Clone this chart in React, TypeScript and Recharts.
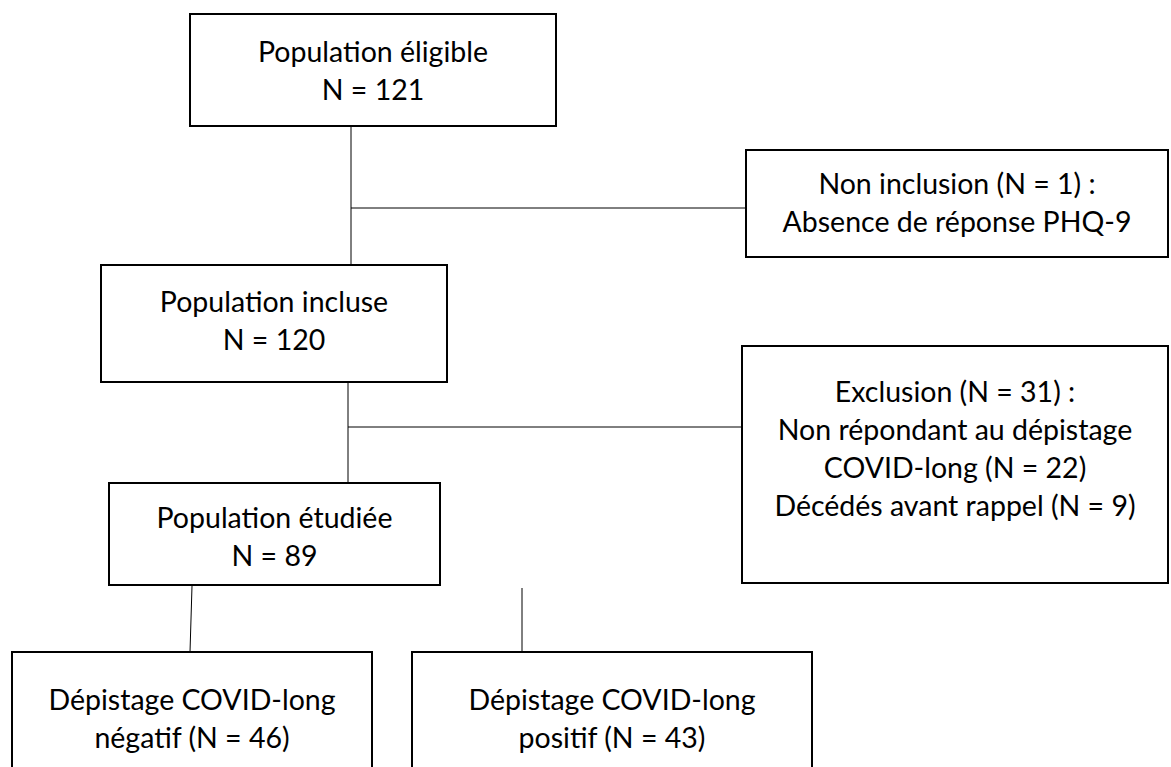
import {
  ComposedChart,
  XAxis,
  YAxis,
  ReferenceArea,
  ReferenceLine,
} from "recharts";

// box texts, one entry per box
const boxTexts: string[][] = [
  ["Population éligible", "N = 121"],
  ["Non inclusion (N = 1) :", "Absence de réponse PHQ-9"],
  ["Population incluse", "N = 120"],
  [
    "Exclusion (N = 31) :",
    "Non répondant au dépistage",
    "COVID-long (N = 22)",
    "Décédés avant rappel (N = 9)",
  ],
  ["Population étudiée", "N = 89"],
  ["Dépistage COVID-long", "négatif (N = 46)"],
  ["Dépistage COVID-long", "positif (N = 43)"],
];

// box frames in chart units: [x1, x2, y1, y2, text centre y]
const boxFrames: number[][] = [
  [190, 556, 14, 126, 70],
  [746, 1168, 150, 257, 202],
  [101, 447, 265, 382, 320],
  [742, 1168, 346, 583, 448],
  [109, 440, 483, 585, 536],
  [12, 372, 652, 775, 718],
  [412, 812, 652, 775, 718],
];

// connector segments: [xa, ya, xb, yb]
const connectors: number[][] = [
  [351, 126, 351, 265],
  [351, 208, 746, 208],
  [348, 382, 348, 483],
  [348, 427, 742, 427],
  [192, 586, 190, 652],
  [522, 588, 522, 652],
];

const W = 1171;
const H = 767;
const LINE_H = 38;
const FONT = "Lato, 'Open Sans', sans-serif";

function BoxLabel(props: any) {
  const { viewBox, lines, dy } = props;
  if (!viewBox) return null;
  const cx = viewBox.x + viewBox.width / 2;
  const cy = viewBox.y + viewBox.height / 2 + dy;
  const start = cy - ((lines.length - 1) * LINE_H) / 2;
  return (
    <text
      x={cx}
      textAnchor="middle"
      fontFamily={FONT}
      fontSize={28.5}
      fill="#000"
    >
      {lines.map((l: string, i: number) => (
        <tspan key={i} x={cx} y={start + i * LINE_H} dominantBaseline="central">
          {l}
        </tspan>
      ))}
    </text>
  );
}

export default function App() {
  return (
    <div style={{ position: "absolute", left: 0, top: 0, background: "#fff" }}>
      <ComposedChart
        width={W}
        height={H}
        data={[]}
        margin={{ top: 0, right: 0, left: 0, bottom: 0 }}
      >
        <XAxis type="number" dataKey="x" domain={[0, W]} hide allowDataOverflow />
        <YAxis
          type="number"
          dataKey="y"
          domain={[0, H]}
          reversed
          hide
          allowDataOverflow
          width={0}
        />
        {connectors.map((c, i) => (
          <ReferenceLine
            key={"c" + i}
            segment={[
              { x: c[0], y: c[1] },
              { x: c[2], y: c[3] },
            ]}
            stroke="#000"
            strokeWidth={1}
            ifOverflow="visible"
          />
        ))}
        {boxFrames.map((b, i) => (
          <ReferenceArea
            key={"b" + i}
            x1={b[0]}
            x2={b[1]}
            y1={b[2]}
            y2={b[3]}
            fill="#fff"
            fillOpacity={1}
            stroke="#000"
            strokeWidth={2}
            ifOverflow="visible"
            label={
              <BoxLabel lines={boxTexts[i]} dy={b[4] - (b[2] + b[3]) / 2} />
            }
          />
        ))}
      </ComposedChart>
    </div>
  );
}
